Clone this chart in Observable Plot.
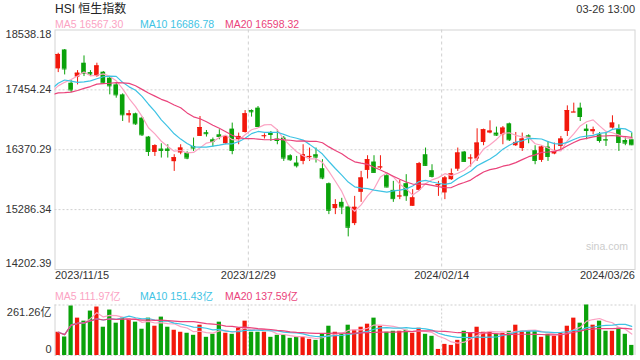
<!DOCTYPE html>
<html>
<head>
<meta charset="utf-8">
<script src="https://cdn.jsdelivr.net/npm/d3@7"></script>
<script src="https://cdn.jsdelivr.net/npm/@observablehq/plot@0.6"></script>
<style>
  html, body { margin: 0; padding: 0; background: #fff; }
  body { width: 640px; height: 360px; position: relative; overflow: hidden;
         font-family: "Liberation Sans", Arial, "Noto Sans CJK SC", sans-serif; color: #333; }
  .abs { position: absolute; white-space: nowrap; line-height: 1; }
  #main { position: absolute; left: 0; top: 0; }
  #vol { position: absolute; left: 0; top: 300px; }
</style>
</head>
<body>
<div id="main"></div>
<div id="vol"></div>
<div id="texts"></div>
<script>
// ---------------- data ----------------
const title = "HSI 恒生指数";
const stamp = "03-26 13:00";

// closes of the 19 sessions before the window (needed so the moving averages start where the picture shows)
const priorClose = [17732, 17295, 17172, 16991, 17085, 16995, 17399, 17406, 17112, 17101,
                    17230, 17664, 17966, 17671, 17568, 17511, 17203, 17426, 17397];

const open = [17834, 18177, 17575, 17684, 17937, 17767, 17695, 17774, 17666, 17545,
              17364, 16985, 17021, 16943, 16600, 16322, 16383, 16383, 16154, 16311,
              16311, 16430, 16611, 16679, 16551, 16641, 16479, 16744, 16551, 16683,
              17080, 17124, 16614, 16683, 16564, 16582, 16262, 16130, 16159, 16226,
              16280, 16027, 15756, 15304, 15418, 15335, 15033, 15599, 15996, 16148,
              16045, 15901, 15635, 15521, 15756, 15346, 15635, 16280, 15991, 15720,
              15588, 15828, 16018, 16329, 16213, 16202, 16502, 16672, 16672, 16641,
              16840, 16443, 16392, 16623, 16353, 16177, 16419, 16293, 16430, 16701,
              17044, 17124, 16744, 16696, 16641, 16556, 16762, 16744, 16538, 16551];

const high = [18117, 18185, 17622, 17803, 18069, 17803, 17937, 17785, 17695, 17575,
              17382, 17080, 17033, 16961, 16611, 16461, 16479, 16461, 16280, 16461,
              16334, 16582, 16972, 16719, 16582, 16732, 16623, 16853, 16672, 17080,
              17093, 17153, 16659, 16701, 16732, 16611, 16280, 16249, 16461, 16401,
              16401, 16190, 15769, 15467, 15491, 15346, 15526, 15978, 16262, 16262,
              16262, 15919, 15798, 15816, 15919, 15648, 16141, 16401, 16099, 15798,
              15888, 16022, 16401, 16340, 16280, 16750, 16744, 16894, 16780, 16791,
              16853, 16683, 16672, 16641, 16443, 16443, 16520, 16491, 16611, 17165,
              17214, 17214, 16822, 16780, 16683, 16672, 16985, 16822, 16611, 16672];

const low = [17767, 17725, 17405, 17545, 17695, 17695, 17684, 17563, 17364, 17304,
             16882, 16853, 16812, 16611, 16249, 16249, 16220, 16220, 15978, 16280,
             16190, 16340, 16611, 16600, 16419, 16551, 16461, 16280, 16461, 16672,
             16961, 16780, 16564, 16520, 16461, 16159, 16159, 16040, 16099, 16159,
             16130, 15828, 15196, 15196, 15196, 14793, 14997, 15418, 15841, 15949,
             16009, 15678, 15418, 15467, 15436, 15346, 15617, 16069, 15859, 15526,
             15467, 15816, 15978, 16141, 16058, 16159, 16443, 16659, 16611, 16461,
             16520, 16430, 16340, 16479, 16099, 16141, 16159, 16280, 16370, 16611,
             17044, 16882, 16551, 16641, 16491, 16430, 16744, 16340, 16443, 16443];

const close = [18095, 17833, 17454, 17756, 17756, 17743, 17888, 17575, 17527, 17364,
               17003, 17021, 16840, 16641, 16340, 16443, 16358, 16358, 16226, 16401,
               16220, 16401, 16773, 16661, 16520, 16611, 16611, 16358, 16611, 17021,
               17057, 16791, 16623, 16647, 16538, 16220, 16190, 16081, 16280, 16249,
               16238, 15859, 15274, 15377, 15335, 14967, 15328, 15859, 16190, 15960,
               16058, 15696, 15485, 15532, 15539, 15498, 16117, 16087, 15888, 15738,
               15859, 15933, 16311, 16159, 16220, 16491, 16732, 16708, 16636, 16762,
               16551, 16502, 16564, 16600, 16177, 16419, 16249, 16340, 16564, 17080,
               17051, 16972, 16719, 16732, 16538, 16546, 16853, 16502, 16491, 16461];

// turnover, 亿
const volume = [120.2, 95.8, 256.0, 193.3, 177.7, 229.9, 250.8, 146.3, 235.1, 167.2,
                193.3, 188.1, 172.4, 135.9, 193.3, 151.5, 198.6, 146.3, 130.6, 120.2,
                115.0, 104.5, 156.8, 94.1, 109.7, 172.4, 115.0, 109.7, 141.1, 177.7,
                120.2, 120.2, 120.2, 94.1, 104.5, 104.5, 88.8, 94.1, 94.1, 83.6,
                78.4, 109.7, 151.5, 120.2, 109.7, 156.8, 130.6, 146.3, 162.0, 193.3,
                151.5, 120.2, 125.4, 125.4, 130.6, 115.0, 141.1, 109.7, 99.3, 31.4,
                57.5, 52.3, 78.4, 125.4, 115.0, 146.3, 120.2, 120.2, 109.7, 115.0,
                125.4, 156.8, 125.4, 125.4, 125.4, 94.1, 109.7, 99.3, 115.0, 151.5,
                193.3, 167.2, 261.3, 156.8, 177.7, 125.4, 125.4, 141.1, 109.7, 52.3];

const yTicks = [14202.39, 15286.34, 16370.29, 17454.24, 18538.18];
const xTickIdx = [0, 30, 60, 89];
const xTickLabels = ["2023/11/15", "2023/12/29", "2024/02/14", "2024/03/26"];
const volTicks = [0, 261.26];
const volTickLabels = ["0", "261.26亿"];

const maNames = ["MA5", "MA10", "MA20"];
const maWindows = [5, 10, 20];
const maPriceText = ["16567.30", "16686.78", "16598.32"];
const maVolText = ["111.97亿", "151.43亿", "137.59亿"];

// ---------------- styling ----------------
const RED = "#f2180c", GREEN = "#0aa20a";
const MA_COLORS = ["#fba3c3", "#3ec3e4", "#ea437b"];
const GRID = "#cfcfcf";
const FONT = '"Liberation Sans", Arial, "Noto Sans CJK SC", sans-serif';

const rows = close.map((c, i) => ({
  i, open: open[i], high: high[i], low: low[i], close: c, vol: volume[i],
  col: c >= open[i] ? RED : GREEN
}));
const closeSeries = priorClose.map((c, k) => ({i: k - priorClose.length, close: c}))
  .concat(rows.map(d => ({i: d.i, close: d.close})));
const xTicks = xTickIdx.map((idx, j) => ({idx, label: xTickLabels[j]}));
const xDomain = [-0.5, close.length - 0.5];
const fmt = d => d.toFixed(2);
const BODY = 0.36, BAR = 0.33;

const main = Plot.plot({
  width: 640, height: 290,
  marginTop: 29.5, marginBottom: 21, marginLeft: 54.5, marginRight: 5.5,
  x: {domain: xDomain, axis: null},
  y: {domain: [yTicks[0], yTicks[yTicks.length - 1]], axis: null},
  color: {type: "identity"},
  style: {fontFamily: FONT, fontSize: "11px", color: "#333", background: "transparent", overflow: "visible"},
  marks: [
    Plot.ruleY(yTicks.slice(1, -1), {stroke: GRID, strokeDasharray: "2,2"}),
    Plot.ruleX(xTicks.slice(1, -1), {x: d => d.idx - 0.5, stroke: GRID, strokeDasharray: "3,3"}),
    Plot.frame({stroke: "#d4d4d4"}),
    Plot.text(["sina.com"], {frameAnchor: "bottom-right", dx: -7, dy: -20, textAnchor: "end",
                             fill: "#cccccc", fontSize: 10.5}),
    // wicks
    Plot.ruleX(rows, {x: "i", y1: "low", y2: "high", stroke: "col", strokeWidth: 1}),
    // bodies
    Plot.rect(rows, {x1: d => d.i - BODY, x2: d => d.i + BODY, y1: "open", y2: "close", fill: "col"}),
    Plot.ruleY(rows, {x1: d => d.i - BODY, x2: d => d.i + BODY, y: "close", stroke: "col"}),
    // moving averages
    ...maWindows.map((k, j) => Plot.lineY(closeSeries,
      Plot.windowY({k, anchor: "end", reduce: "mean"},
        {x: "i", y: "close", stroke: MA_COLORS[j], strokeWidth: 1.2, clip: true}))),
    // y labels
    Plot.text([yTicks[yTicks.length - 1]], {y: d => d, text: fmt, frameAnchor: "left", dx: -3.5, dy: 4.5, textAnchor: "end", fill: "#333"}),
    Plot.text(yTicks.slice(1, -1), {y: d => d, text: fmt, frameAnchor: "left", dx: -3.5, textAnchor: "end", fill: "#333"}),
    Plot.text([yTicks[0]], {y: d => d, text: fmt, frameAnchor: "left", dx: -3.5, dy: -6.5, textAnchor: "end", fill: "#333"}),
    // x labels
    Plot.text(xTicks.slice(0, 1), {x: d => d.idx - 0.5, text: "label", frameAnchor: "bottom", dy: 9, textAnchor: "start", fill: "#333"}),
    Plot.text(xTicks.slice(1, -1), {x: d => d.idx - 0.5, text: "label", frameAnchor: "bottom", dy: 9, textAnchor: "middle", fill: "#333"}),
    Plot.text(xTicks.slice(-1), {x: d => d.idx + 0.5, text: "label", frameAnchor: "bottom", dy: 9, textAnchor: "end", fill: "#333"})
  ]
});
document.getElementById("main").append(main);

const vol = Plot.plot({
  width: 640, height: 60,
  marginTop: 4.5, marginBottom: 5, marginLeft: 54.5, marginRight: 5.5,
  x: {domain: xDomain, axis: null},
  y: {domain: [volTicks[0], volTicks[1]], axis: null},
  color: {type: "identity"},
  style: {fontFamily: FONT, fontSize: "11px", color: "#333", background: "transparent", overflow: "visible"},
  marks: [
    Plot.ruleX(xTicks.slice(1, -1), {x: d => d.idx - 0.5, stroke: GRID, strokeDasharray: "2,2"}),
    Plot.ruleY(volTicks, {stroke: GRID, strokeDasharray: "2,2"}),
    Plot.ruleX(xDomain, {stroke: "#d4d4d4"}),
    Plot.rect(rows, {x1: d => d.i - BAR, x2: d => d.i + BAR, y1: 0, y2: "vol", fill: "col"}),
    ...maWindows.map((k, j) => Plot.lineY(rows,
      Plot.windowY({k, anchor: "end", reduce: "mean", strict: false},
        {x: "i", y: "vol", stroke: MA_COLORS[j], strokeWidth: 1.2, clip: true}))),
    Plot.text([volTicks[1]], {y: d => d, text: () => volTickLabels[1], frameAnchor: "left", dx: -3.5, dy: 7, textAnchor: "end", fill: "#333"}),
    Plot.text([volTicks[0]], {y: d => d, text: () => volTickLabels[0], frameAnchor: "left", dx: -3.5, dy: -6, textAnchor: "end", fill: "#333"})
  ]
});
document.getElementById("vol").append(vol);

// ---------------- header / legends ----------------
const texts = document.getElementById("texts");
function addText(str, css) {
  const el = document.createElement("div");
  el.className = "abs";
  el.textContent = str;
  Object.assign(el.style, css);
  texts.append(el);
}
addText(title, {left: "55px", top: "3px", fontSize: "12px", color: "#222",
                fontFamily: '"Liberation Sans", Arial, "Noto Sans CJK SC", sans-serif'});
addText(stamp, {right: "5px", top: "3.5px", fontSize: "11px", color: "#333"});
const legendX = [55, 140, 225];
maNames.forEach((n, j) => {
  addText(n + " " + maPriceText[j], {left: legendX[j] + "px", top: "19px", fontSize: "10.5px", color: MA_COLORS[j]});
  addText(n + " " + maVolText[j], {left: legendX[j] + "px", top: "290.5px", fontSize: "10.5px", color: MA_COLORS[j]});
});
</script>
</body>
</html>
